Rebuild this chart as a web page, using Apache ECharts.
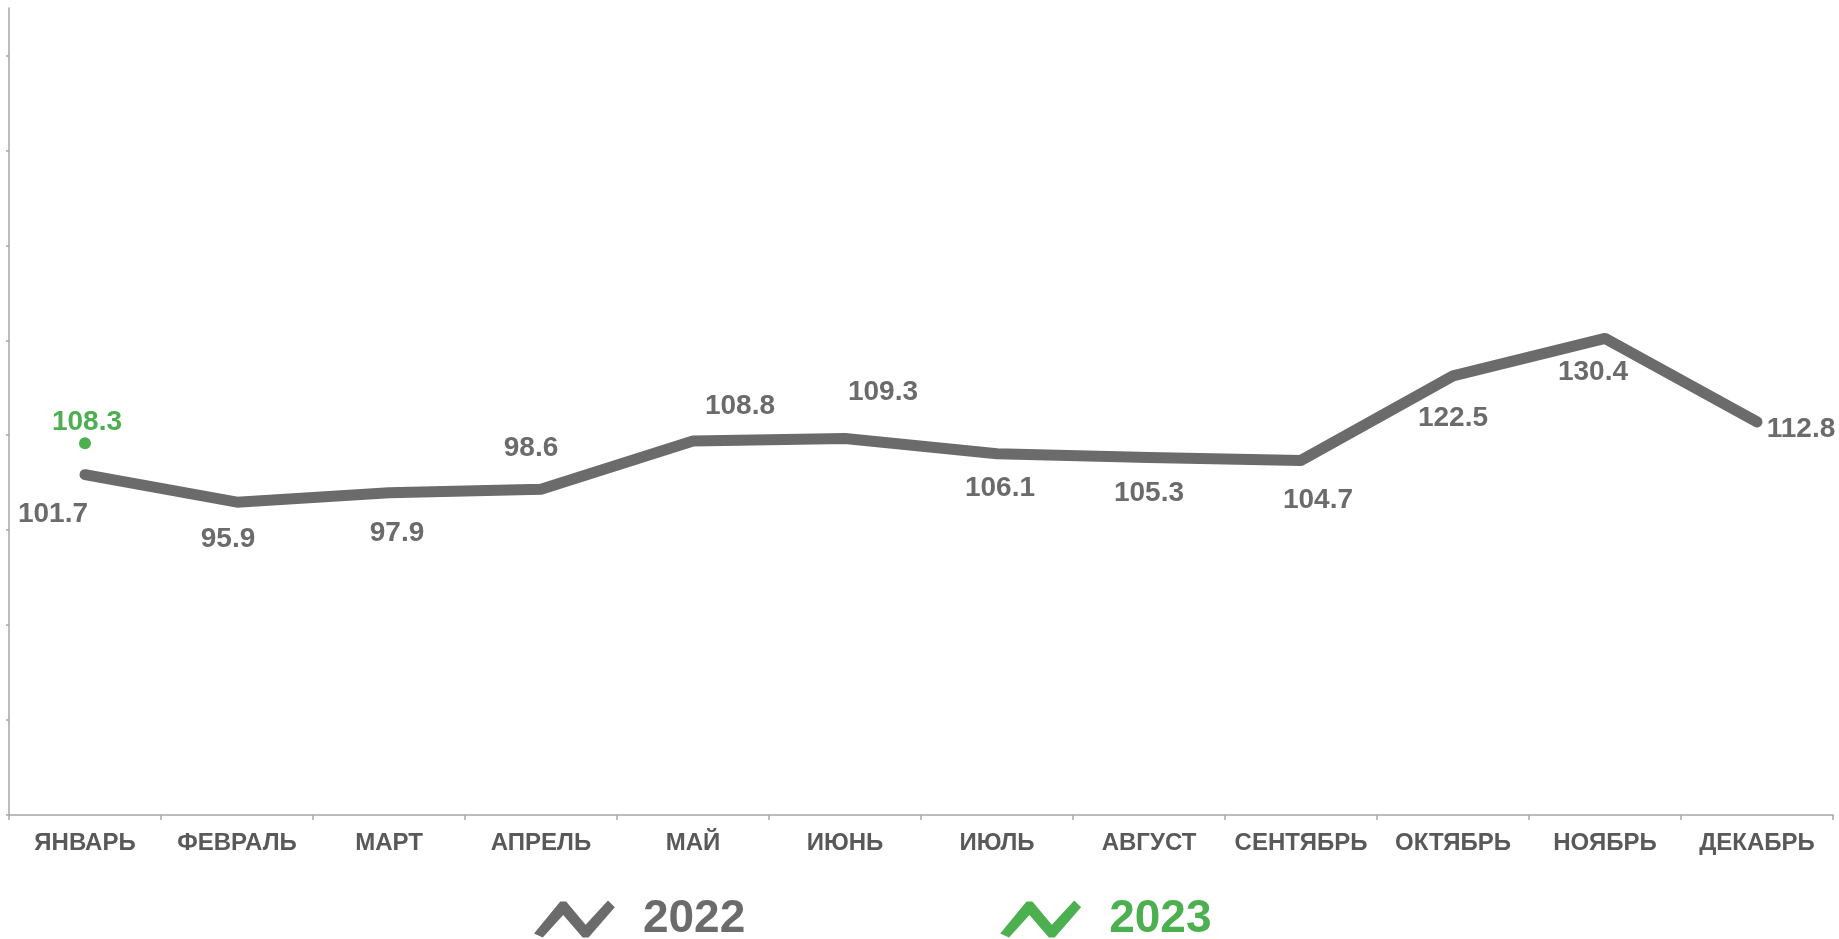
<!DOCTYPE html>
<html>
<head>
<meta charset="utf-8">
<script src="https://cdn.jsdelivr.net/npm/echarts@6/dist/echarts.min.js"></script>
<style>
html,body{margin:0;padding:0;background:#fff;}
#chart{width:1839px;height:939px;}
</style>
</head>
<body>
<div id="chart"></div>
<script>
const months = ['ЯНВАРЬ','ФЕВРАЛЬ','МАРТ','АПРЕЛЬ','МАЙ','ИЮНЬ','ИЮЛЬ','АВГУСТ','СЕНТЯБРЬ','ОКТЯБРЬ','НОЯБРЬ','ДЕКАБРЬ'];
const values2022 = [101.7, 95.9, 97.9, 98.6, 108.8, 109.3, 106.1, 105.3, 104.7, 122.5, 130.4, 112.8];
const values2023 = [108.3, null, null, null, null, null, null, null, null, null, null, null];
const seriesNames = ['2022', '2023'];
const yTickValues = [30, 50, 70, 90, 110, 130, 150, 170, 190];

// label placement (style only)
const labelOffsets2022 = [[-32,40],[-9,37],[8,41],[-10,-41],[47,-35],[38,-46],[3,35],[0,36],[17,40],[0,42],[-12,34],[44,7]];
const labelOffsets2023 = [[2,-21]];

const GRAY = '#6b6b6b';
const GREEN = '#4caf50';
const FONT = "'Liberation Sans', Arial, sans-serif";
const zigzag = 'path://M0 36 L27 3 L33 3 L53 27 L76 2 L83 9 L56 40 L50 40 L30 17 L9 40 Z';

const chart = echarts.init(document.getElementById('chart'));
chart.setOption({
  animation: false,
  backgroundColor: '#fff',
  grid: { left: 9, right: 6, top: 8, bottom: 124, containLabel: false, outerBoundsMode: 'none' },
  legend: {
    left: 534, top: 896, padding: 0,
    itemWidth: 83, itemHeight: 37, itemGap: 255,
    data: [
      { name: seriesNames[0], icon: zigzag, itemStyle: { color: GRAY }, textStyle: { color: GRAY } },
      { name: seriesNames[1], icon: zigzag, itemStyle: { color: GREEN }, textStyle: { color: GREEN } }
    ],
    textStyle: { fontFamily: FONT, fontWeight: 'bold', fontSize: 46, lineHeight: 46, padding: [0,0,0,22] }
  },
  xAxis: {
    type: 'category',
    data: months,
    boundaryGap: true,
    axisLine: { lineStyle: { color: '#a6a6a6', width: 1.5 } },
    axisTick: { show: true, length: 5, lineStyle: { color: '#a6a6a6', width: 1.5 } },
    axisLabel: { interval: 0, margin: 16, color: '#595959', fontFamily: FONT, fontWeight: 'bold', fontSize: 24 },
    splitLine: { show: false }
  },
  yAxis: {
    type: 'value',
    min: 30, max: 200,
    axisLine: { show: true, lineStyle: { color: '#a6a6a6', width: 1.5 } },
    axisTick: { show: true, length: 3, customValues: yTickValues, lineStyle: { color: '#a6a6a6', width: 1.5 } },
    axisLabel: { show: false },
    splitLine: { show: false }
  },
  series: [
    {
      name: seriesNames[0],
      type: 'line',
      data: values2022.map((v, i) => ({ value: v, label: { offset: labelOffsets2022[i] } })),
      symbol: 'circle',
      symbolSize: 0,
      showSymbol: true,
      color: GRAY,
      itemStyle: { color: GRAY },
      lineStyle: { color: GRAY, width: 11, cap: 'round', join: 'round' },
      label: { show: true, position: 'inside', color: GRAY, fontFamily: FONT, fontWeight: 'bold', fontSize: 28,
               formatter: p => p.value.toFixed(1) },
      z: 2
    },
    {
      name: seriesNames[1],
      type: 'line',
      data: values2023.map((v, i) => ({ value: v, label: { offset: labelOffsets2023[i] || [0,0] } })),
      symbol: 'circle',
      symbolSize: 12,
      showSymbol: true,
      color: GREEN,
      itemStyle: { color: GREEN },
      lineStyle: { color: GREEN, width: 11 },
      label: { show: true, position: 'inside', color: GREEN, fontFamily: FONT, fontWeight: 'bold', fontSize: 28,
               formatter: p => (p.value == null ? '' : p.value.toFixed(1)) },
      z: 3
    }
  ]
});
</script>
</body>
</html>
